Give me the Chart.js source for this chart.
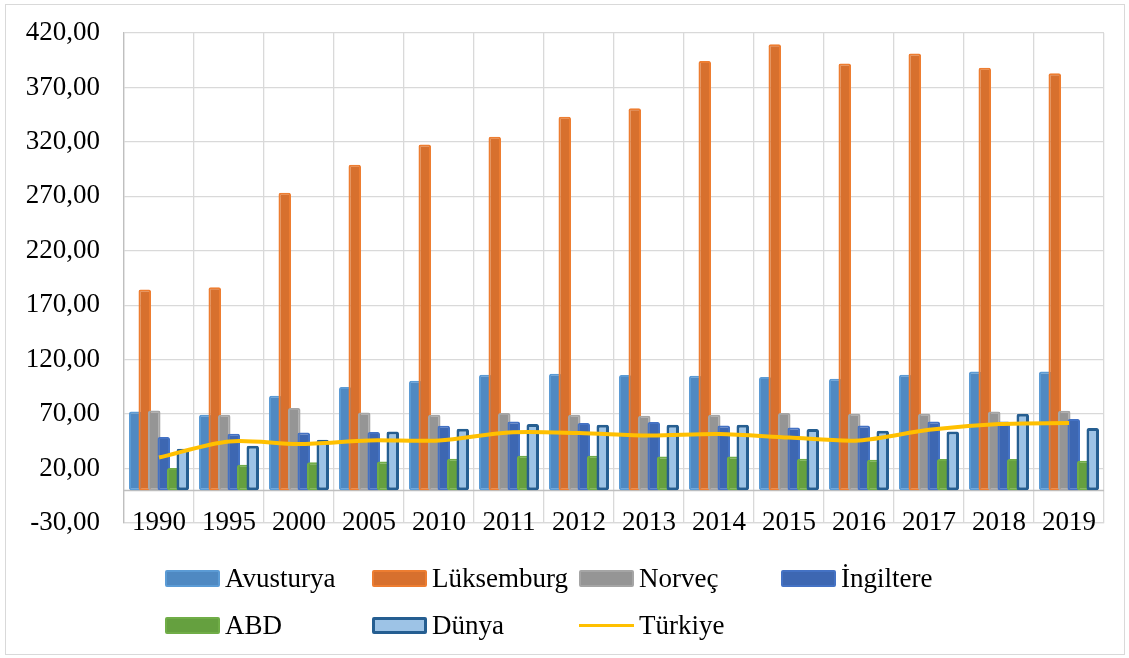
<!DOCTYPE html>
<html lang="tr">
<head>
    <meta charset="UTF-8">
    <title>Dışa açıklık</title>
    <script src="https://cdn.jsdelivr.net/npm/chart.js"></script>
    <style>
        html, body { margin: 0; padding: 0; background: #fff; }
        #wrap { position: relative; width: 1129px; height: 658px; }
        #frame { position: absolute; left: 5px; top: 4px; width: 1118px; height: 649px; border: 1px solid #D9D9D9; pointer-events: none; }
        #chart { position: absolute; left: 0; top: 0; }
        .leg { position: absolute; display: flex; align-items: center; height: 30px;
               font-family: 'Liberation Serif', 'Times New Roman', serif; font-size: 27px; color: #000; white-space: nowrap; }
        .sw { width: 55px; height: 17px; box-sizing: border-box; border-radius: 2px; margin-right: 5px; }
        .ln { width: 55px; height: 3px; margin-right: 5px; }
    </style>
</head>
<body>
<div id="wrap">
    <div id="frame"></div>
    <canvas id="chart" width="1129" height="658"></canvas>
</div>
<script>
    const years = ['1990', '1995', '2000', '2005', '2010', '2011', '2012', '2013', '2014', '2015', '2016', '2017', '2018', '2019'];

    const avusturya  = [72.5, 69.4, 86.9, 94.9, 100.7, 106.2, 107.1, 105.9, 105.3, 104.0, 102.5, 106.2, 109.2, 109.2];
    const luksemburg = [184.4, 186.5, 273.3, 299.0, 317.7, 324.8, 343.1, 350.8, 394.3, 409.6, 391.9, 401.1, 388.2, 383.0];
    const norvec     = [73.4, 69.4, 75.6, 71.5, 69.4, 71.0, 69.4, 68.5, 69.4, 71.0, 70.3, 70.3, 72.5, 73.1];
    const ingiltere  = [48.9, 51.9, 53.1, 53.5, 59.3, 63.3, 61.8, 62.7, 59.6, 57.7, 59.6, 63.3, 63.3, 65.5];
    const abd        = [20.4, 23.4, 25.9, 26.5, 29.0, 31.7, 31.7, 31.1, 31.1, 29.0, 28.0, 28.7, 28.7, 27.1];
    const dunya      = [38.2, 40.9, 46.4, 54.1, 56.5, 60.9, 60.2, 60.2, 60.2, 56.3, 54.7, 54.1, 70.3, 57.2];
    const turkiye    = [30.2, 44.9, 42.5, 45.8, 45.8, 53.1, 52.6, 50.4, 51.7, 48.5, 45.8, 55.6, 60.9, 61.8];

    const yMin = -30, yMax = 420, yStep = 50;

    const FONT = "'Liberation Serif', 'Times New Roman', serif";

    // fill is a bit darker than the edge, like the Excel bars
    const barSeries = [
        { label: 'Avusturya',  data: avusturya,  fill: '#4F89C2', edge: '#5B9BD5', bw: 2 },
        { label: 'Lüksemburg', data: luksemburg, fill: '#D7702E', edge: '#ED7D31', bw: 2 },
        { label: 'Norveç',     data: norvec,     fill: '#959595', edge: '#A5A5A5', bw: 2 },
        { label: 'İngiltere',  data: ingiltere,  fill: '#3D67B2', edge: '#4472C4', bw: 2 },
        { label: 'ABD',        data: abd,        fill: '#65A03F', edge: '#70AD47', bw: 2 },
        { label: 'Dünya',      data: dunya,      fill: '#9DC3E6', edge: '#255E91', bw: 3 }
    ];
    const lineColor = '#FFC000';

    const datasets = barSeries.map(s => ({
        type: 'bar',
        label: s.label,
        data: s.data,
        xAxisID: 'x',
        backgroundColor: s.fill,
        borderColor: s.edge,
        borderWidth: s.bw,
        borderSkipped: false,
        borderRadius: 2,
        categoryPercentage: 0.814,
        barPercentage: 1.32
    }));
    datasets.push({
        type: 'line',
        label: 'Türkiye',
        data: turkiye,
        xAxisID: 'x',
        borderColor: lineColor,
        backgroundColor: lineColor,
        borderWidth: 4,
        pointRadius: 0,
        tension: 0.3,
        fill: false
    });

    // zero line + Excel draw order (later series on top of earlier ones)
    const excelOrder = {
        id: 'excelOrder',
        beforeDatasetsDraw(chart) {
            const { ctx, chartArea, scales } = chart;
            const y0 = Math.round(scales.y.getPixelForValue(0)) + 0.5;
            ctx.save();
            ctx.strokeStyle = '#BFBFBF';
            ctx.lineWidth = 1.5;
            ctx.beginPath();
            ctx.moveTo(chartArea.left, y0);
            ctx.lineTo(chartArea.right, y0);
            ctx.stroke();
            ctx.restore();
            chart.getSortedVisibleDatasetMetas().forEach(meta => meta.controller.draw());
            return false;
        }
    };

    new Chart(document.getElementById('chart'), {
        data: { labels: years, datasets: datasets },
        plugins: [excelOrder],
        options: {
            responsive: false,
            animation: false,
            layout: { padding: { left: 0, top: 33, right: 25, bottom: 115 } },
            plugins: {
                legend: { display: false },
                tooltip: { enabled: false }
            },
            scales: {
                x: {
                    offset: true,
                    grid: { color: '#D9D9D9', lineWidth: 1.3, drawTicks: false, offset: true },
                    border: { color: '#D9D9D9', width: 1.3 },
                    ticks: { color: '#000', mirror: true, padding: -16, maxRotation: 0, autoSkip: false,
                             font: { family: FONT, size: 27 } },
                    afterFit: s => { s.height = 20; }
                },
                y: {
                    min: yMin,
                    max: yMax,
                    grid: { color: '#D9D9D9', lineWidth: 1.3, drawTicks: false },
                    border: { color: '#BFBFBF', width: 1.3 },
                    ticks: {
                        stepSize: yStep,
                        color: '#000',
                        padding: 24,
                        font: { family: FONT, size: 27 },
                        callback: v => v.toFixed(2).replace('.', ',')
                    },
                    // tick padding would otherwise push the plot top down
                    afterFit: s => { s.width = 124; s.paddingTop = 0; s.paddingBottom = 0; }
                }
            }
        }
    });

    // legend laid out in Excel's grid
    const legendSlots = [[165, 578], [372, 578], [579, 578], [781, 578], [165, 625], [372, 625], [579, 625]];
    const wrap = document.getElementById('wrap');
    const legendItems = barSeries.map(s => ({ label: s.label, fill: s.fill, edge: s.edge, bw: s.bw, line: false }));
    legendItems.push({ label: 'Türkiye', line: true });
    legendItems.forEach((it, i) => {
        const el = document.createElement('div');
        el.className = 'leg';
        el.style.left = legendSlots[i][0] + 'px';
        el.style.top = (legendSlots[i][1] - 15) + 'px';
        const mark = document.createElement('span');
        if (it.line) {
            mark.className = 'ln';
            mark.style.background = lineColor;
        } else {
            mark.className = 'sw';
            mark.style.background = it.fill;
            mark.style.border = it.bw + 'px solid ' + it.edge;
        }
        el.appendChild(mark);
        el.appendChild(document.createTextNode(it.label));
        wrap.appendChild(el);
    });
</script>
</body>
</html>
